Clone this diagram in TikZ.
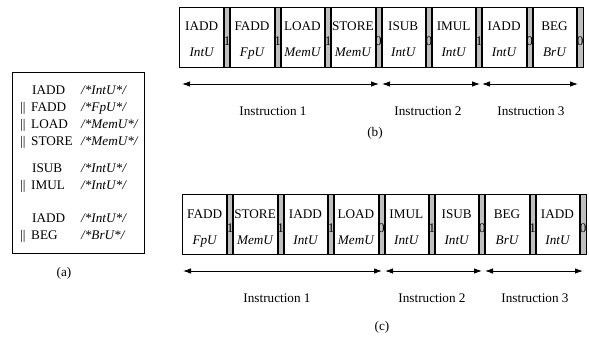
\documentclass[tikz,border=0pt]{standalone}
\usepackage{fontspec}
\setmainfont{Liberation Serif}
\usetikzlibrary{arrows.meta,calc}
\begin{document}
\begin{tikzpicture}[x=1pt,y=-1pt,
  every node/.style={font=\fontsize{13.2}{15}\selectfont, inner sep=0pt},
  cell/.style={draw, line width=0.9pt, minimum width=44.4pt, minimum height=60pt, anchor=north west},
  sepbar/.style={draw, fill=gray!50, line width=0.9pt, minimum width=6pt, minimum height=60pt, anchor=north west},
  txt/.style={anchor=base},
  ltxt/.style={anchor=base west},
  cmt/.style={anchor=base west, font=\fontsize{13.2}{15}\selectfont\itshape},
  unit/.style={anchor=base, font=\fontsize{13.2}{15}\selectfont\itshape},
  spanarrow/.style={{Latex[length=8pt,width=5.5pt]}-{Latex[length=8pt,width=5.5pt]}, line width=0.9pt},
  frame/.style={draw, line width=0.9pt}
]
\useasboundingbox (0,0) rectangle (589,337);

% (a) listing
\node[frame, minimum width=132pt, minimum height=181pt, anchor=north west] (box) at (12,72) {};
\node[ltxt] (a1) at (32,94) {IADD};
\node[cmt] (c1) at (81,94) {/*IntU*/};
\node[ltxt] (p2) at (20,111) {||};
\node[ltxt] (a2) at (31,111) {FADD};
\node[cmt] (c2) at (81,111) {/*FpU*/};
\node[ltxt] (p3) at (20,128) {||};
\node[ltxt] (a3) at (31,128) {LOAD};
\node[cmt] (c3) at (81,128) {/*MemU*/};
\node[ltxt] (p4) at (20,145) {||};
\node[ltxt] (a4) at (31,145) {STORE};
\node[cmt] (c4) at (81,145) {/*MemU*/};
\node[ltxt] (a5) at (32,172) {ISUB};
\node[cmt] (c5) at (81,172) {/*IntU*/};
\node[ltxt] (p6) at (20,189) {||};
\node[ltxt] (a6) at (31,189) {IMUL};
\node[cmt] (c6) at (81,189) {/*IntU*/};
\node[ltxt] (a7) at (32,222) {IADD};
\node[cmt] (c7) at (81,222) {/*IntU*/};
\node[ltxt] (p8) at (20,239) {||};
\node[ltxt] (a8) at (31,239) {BEG};
\node[cmt] (c8) at (81,239) {/*BrU*/};
\node (la) at (64,273) {(a)};

% (b) row
\foreach \i/\n/\u/\d in {0/IADD/IntU/1, 1/FADD/FpU/1, 2/LOAD/MemU/1, 3/STORE/MemU/0, 4/ISUB/IntU/0, 5/IMUL/IntU/1, 6/IADD/IntU/0, 7/BEG/BrU/0} {
  \node[cell] (b\i) at ({179+50.4*\i},7) {};
  \node[sepbar] (bs\i) at (b\i.north east) {};
  \node[txt] (bn\i) at ($(b\i.north)+(0,24)$) {\n};
  \node[unit] (bu\i) at ($(b\i.north)+(0,50)$) {\u};
  \node[txt] (bd\i) at ($(bs\i.north)+(-0.5,39)$) {\d};
}
\coordinate (b1s) at (182,84);
\coordinate (b1e) at (379,84);
\coordinate (b2s) at (382,84);
\coordinate (b2e) at (480,84);
\coordinate (b3s) at (482,84);
\coordinate (b3e) at (578,84);
\draw[spanarrow] (b1s) -- (b1e);
\draw[spanarrow] (b2s) -- (b2e);
\draw[spanarrow] (b3s) -- (b3e);
\node (bl1) at (273,111) {Instruction 1};
\node (bl2) at (428,111) {Instruction 2};
\node (bl3) at (531,111) {Instruction 3};
\node (lb) at (375,133) {(b)};

% (c) row
\foreach \i/\n/\u/\d in {0/FADD/FpU/1, 1/STORE/MemU/1, 2/IADD/IntU/1, 3/LOAD/MemU/0, 4/IMUL/IntU/1, 5/ISUB/IntU/0, 6/BEG/BrU/1, 7/IADD/IntU/0} {
  \node[cell] (c\i) at ({182+50.4*\i},194) {};
  \node[sepbar] (cs\i) at (c\i.north east) {};
  \node[txt] (cn\i) at ($(c\i.north)+(0,24)$) {\n};
  \node[unit] (cu\i) at ($(c\i.north)+(0,50)$) {\u};
  \node[txt] (cd\i) at ($(cs\i.north)+(-0.5,38)$) {\d};
}
\coordinate (c1s) at (183,271);
\coordinate (c1e) at (382,271);
\coordinate (c2s) at (385,271);
\coordinate (c2e) at (482,271);
\coordinate (c3s) at (485,271);
\coordinate (c3e) at (583,271);
\draw[spanarrow] (c1s) -- (c1e);
\draw[spanarrow] (c2s) -- (c2e);
\draw[spanarrow] (c3s) -- (c3e);
\node (cl1) at (277,298) {Instruction 1};
\node (cl2) at (432,298) {Instruction 2};
\node (cl3) at (535,298) {Instruction 3};
\node (lc) at (382,327) {(c)};
\end{tikzpicture}
\end{document}
